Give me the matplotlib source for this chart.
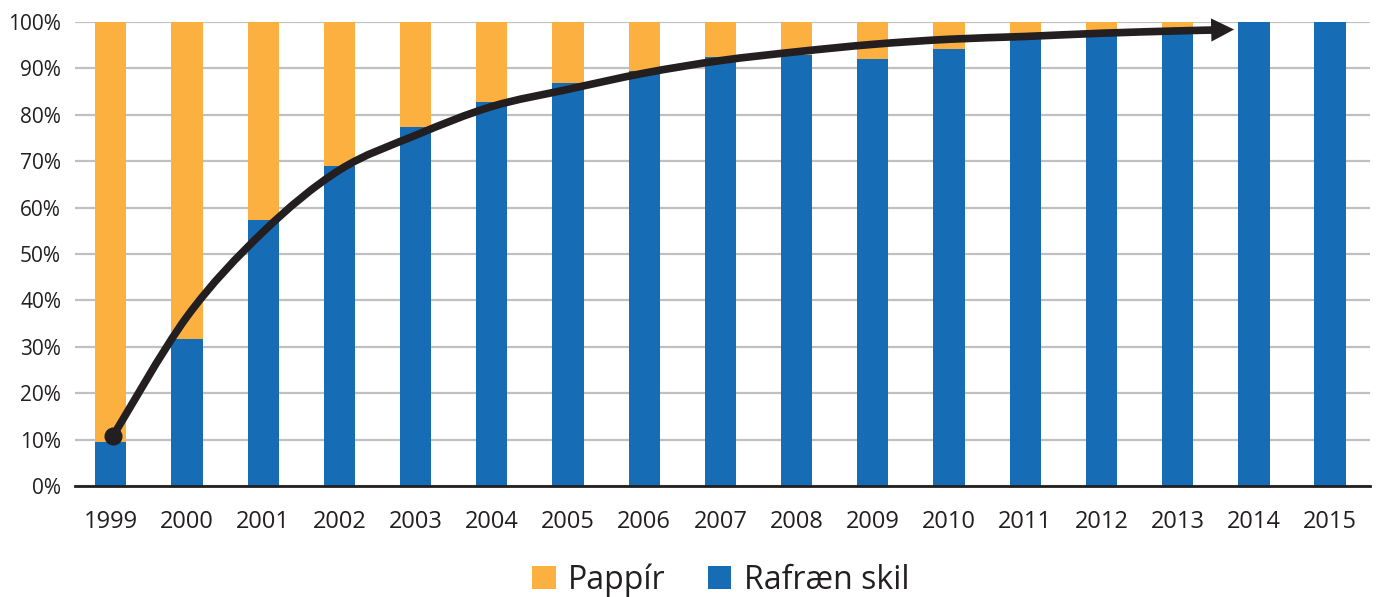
import matplotlib
matplotlib.use("Agg")
import matplotlib.pyplot as plt
from matplotlib.path import Path
from matplotlib.patches import PathPatch
import numpy as np

years = [1999, 2000, 2001, 2002, 2003, 2004, 2005, 2006, 2007,
         2008, 2009, 2010, 2011, 2012, 2013, 2014, 2015]
rafraen = [9.4, 31.7, 57.3, 69.0, 77.4, 82.8, 86.9, 89.4, 92.5,
           93.0, 92.0, 94.3, 96.6, 97.6, 98.4, 100.0, 100.0]
pappir = [100 - v for v in rafraen]

# trend curve drawn over the bars (x in bar-index units, y in %)
curve_x = [0.03, 1.0, 2.0, 3.0, 4.0, 5.0, 6.0, 7.0, 8.0,
           9.0, 10.0, 11.0, 12.0, 13.0, 14.0, 14.5]
curve_y = [10.8, 36.5, 54.8, 68.1, 75.6, 81.8, 85.5, 89.0,
           91.7, 93.6, 95.2, 96.3, 96.9, 97.6, 98.1, 98.3]
arrow_tip = (14.74, 98.4)

orange = '#FBB040'
blue = '#176CB6'
dark = '#231F20'
font = ['Open Sans', 'DejaVu Sans']
plt.rcParams['font.family'] = font

fig = plt.figure(figsize=(13.78, 5.97), dpi=100)
ax = fig.add_axes([0.0544, 0.186, 0.9396, 0.777])

x = np.arange(len(years))
ax.bar(x, rafraen, width=0.41, color=blue, zorder=2, label='Rafræn skil')
ax.bar(x, pappir, width=0.41, bottom=rafraen, color=orange, zorder=2,
       label='Pappír')

# smooth bezier path through the curve points (done in pixel space)
ax.set_xlim(-0.47, 16.52)
ax.set_ylim(0, 100)
pts = ax.transData.transform(np.column_stack([curve_x, curve_y]))
verts = [pts[0]]
codes = [Path.MOVETO]
for i in range(len(pts) - 1):
    p0 = pts[i - 1] if i > 0 else pts[i]
    p1, p2 = pts[i], pts[i + 1]
    p3 = pts[i + 2] if i + 2 < len(pts) else pts[i + 1]
    verts += [p1 + (p2 - p0) / 6, p2 - (p3 - p1) / 6, p2]
    codes += [Path.CURVE4] * 3
path = Path(verts, codes)
ax.add_patch(PathPatch(path, transform=None, fill=False, ec=dark, lw=5.5,
                       capstyle='butt', zorder=4))
ax.plot(curve_x[0], curve_y[0], 'o', color=dark, ms=12, zorder=5)
ax.annotate('', xy=arrow_tip, xytext=(curve_x[-1] - 0.05, curve_y[-1]),
            arrowprops=dict(arrowstyle='-|>,head_length=0.75,head_width=0.38',
                            mutation_scale=22, color=dark, lw=0,
                            shrinkA=0, shrinkB=0), zorder=6)

ax.set_yticks(range(0, 101, 10))
ax.set_yticklabels(['{}%'.format(v) for v in range(0, 101, 10)])
ax.set_xticks(x)
ax.set_xticklabels([str(y) for y in years])
ax.tick_params(axis='y', length=0, pad=10, labelsize=15, colors=dark)
ax.tick_params(axis='x', length=0, pad=17, labelsize=17, colors=dark)
ax.yaxis.grid(True, color='#C0C0C2', lw=1.6, zorder=0)
ax.set_axisbelow(True)
for s in ['top', 'right', 'left']:
    ax.spines[s].set_visible(False)
ax.spines['bottom'].set_color(dark)
ax.spines['bottom'].set_linewidth(2)
ax.spines['bottom'].set_zorder(3)

h, l = ax.get_legend_handles_labels()
fig.legend([h[1], h[0]], [l[1], l[0]], loc='lower center',
           bbox_to_anchor=(0.523, -0.048), ncol=2, frameon=False,
           fontsize=23, handlelength=0.75, handleheight=0.75,
           handletextpad=0.4, columnspacing=1.3, labelcolor=dark)

fig.savefig('out.png', dpi=100)
